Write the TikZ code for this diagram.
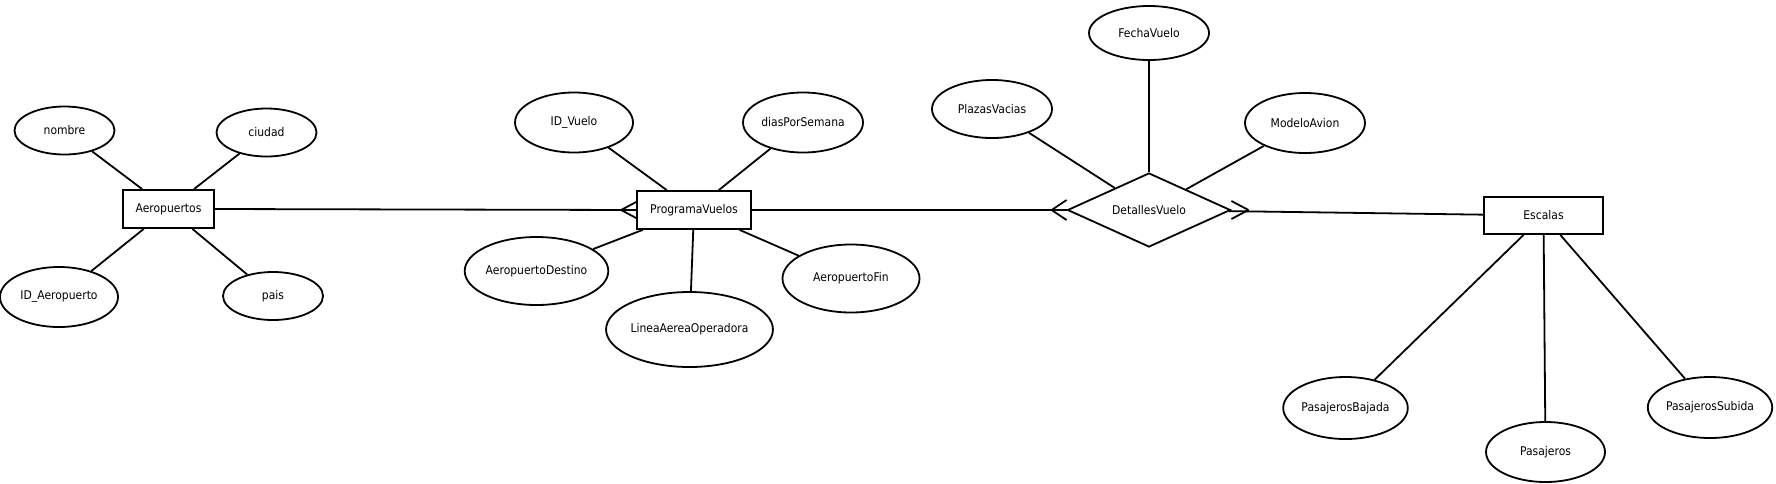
\documentclass[tikz,border=0pt]{standalone}
\usepackage{fontspec}
\setmainfont{DejaVu Sans}[FakeStretch=0.9]
\usetikzlibrary{shapes.geometric}

\begin{document}
\begin{tikzpicture}[x=1pt,y=-1pt,line width=1.8pt,
  ent/.style={rectangle,draw,inner sep=0pt,minimum width=114pt,minimum height=38pt,font=\fontsize{12}{14}\selectfont},
  rel/.style={diamond,draw,aspect=2.2,inner sep=0pt,minimum width=163pt,minimum height=74pt,font=\fontsize{12}{14}\selectfont},
  att/.style={ellipse,draw,inner sep=0pt,minimum width=120pt,minimum height=60pt,font=\fontsize{12}{14}\selectfont},
  atts/.style={att,minimum width=100pt,minimum height=48pt},
  attl/.style={att,minimum width=137pt,minimum height=68pt},
  e/.style={draw}]

\useasboundingbox (0,0) rectangle (1776,483);

\node[ent, minimum width=91pt] (aero) at (168.5,209) {Aeropuertos};
\node[atts] (nombre) at (64.5,130.5) {nombre};
\node[atts] (ciudad) at (266.5,132.5) {ciudad};
\node[att, minimum width=118pt] (idAero) at (59,297) {ID\_Aeropuerto};
\node[atts] (pais) at (273,296) {pais};

\node[ent] (prog) at (694,210) {ProgramaVuelos};
\node[att, minimum width=118pt] (idVuelo) at (574,122.5) {ID\_Vuelo};
\node[att] (dias) at (803,122.5) {diasPorSemana};
\node[attl] (destino) at (536.5,271) {AeropuertoDestino};
\node[attl, minimum width=151pt, minimum height=75pt] (linea) at (689.5,329.5) {LineaAereaOperadora};
\node[attl] (fin) at (851,278.5) {AeropuertoFin};

\node[rel] (det) at (1149,210) {DetallesVuelo};
\node[att, minimum height=54pt] (fecha) at (1149,33) {FechaVuelo};
\node[att, minimum height=58pt] (plazas) at (992,109) {PlazasVacias};
\node[att] (modelo) at (1305,123) {ModeloAvion};

\node[ent, minimum width=119pt, minimum height=37pt] (esc) at (1543.5,215.5) {Escalas};
\node[att, minimum width=117pt, minimum height=62pt] (bajada) at (1345.5,408) {PasajerosBajada};
\node[att, minimum width=119pt] (pas) at (1545.5,452) {Pasajeros};
\node[att, minimum width=124pt, minimum height=61pt] (subida) at (1710,407.5) {PasajerosSubida};

% atributos
\path[e] (nombre) -- (aero);
\path[e] (ciudad) -- (aero);
\path[e] (idAero) -- (aero);
\path[e] (pais) -- (aero);
\path[e] (idVuelo) -- (prog);
\path[e] (dias) -- (prog);
\path[e] (destino) -- (prog);
\path[e] (linea) -- (prog);
\path[e] (fin) -- (prog);
\path[e] (fecha) -- (det);
\path[e] (plazas) -- (det);
\path[e] (modelo) -- (det);
\path[e] (bajada) -- (esc);
\path[e] (pas) -- (esc);
\path[e] (subida) -- (esc);

% relaciones
\path[e] (aero.east) -- (prog.west);
\path[e] ([xshift=-15pt]prog.west) -- ([yshift=8pt]prog.west);
\path[e] ([xshift=-15pt]prog.west) -- ([yshift=-8pt]prog.west);
\path[e] (prog.east) -- (det.west);
\path[e] ([xshift=-15pt]det.west) -- ([yshift=10pt]det.west);
\path[e] ([xshift=-15pt]det.west) -- ([yshift=-10pt]det.west);
\path[e] (det) -- (esc);
\path[e] ([xshift=17pt]det.east) -- ([yshift=9pt]det.east);
\path[e] ([xshift=17pt]det.east) -- ([yshift=-9pt]det.east);

\end{tikzpicture}
\end{document}
